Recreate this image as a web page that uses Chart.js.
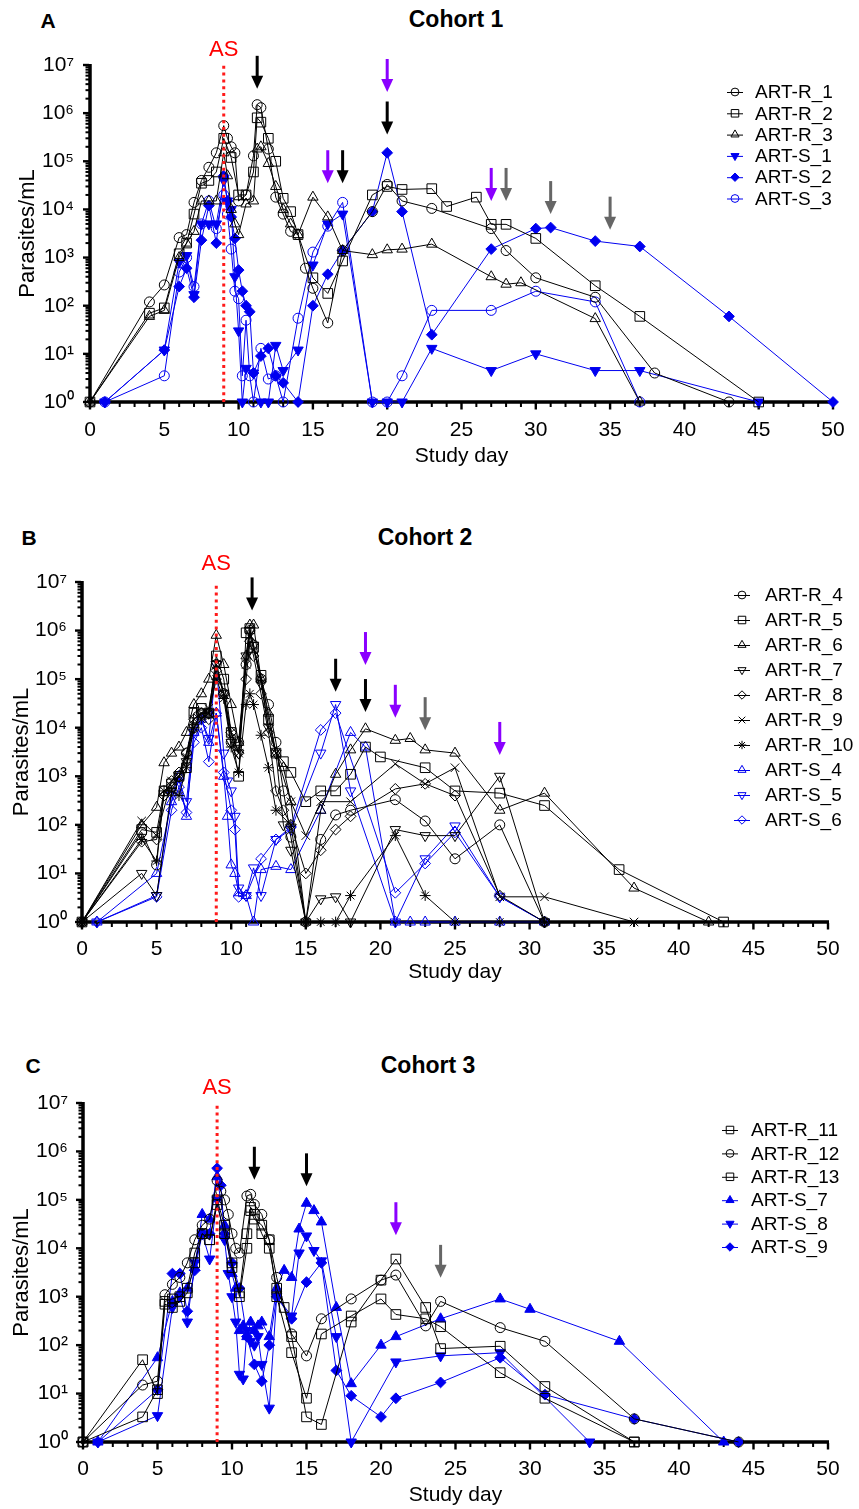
<!DOCTYPE html>
<html><head><meta charset="utf-8">
<script src="https://cdn.jsdelivr.net/npm/chart.js@4.4.1/dist/chart.umd.min.js"></script>
<style>
body{margin:0;background:#fff;width:859px;height:1509px;position:relative;overflow:hidden;font-family:"Liberation Sans",Arial,Helvetica,sans-serif;}
canvas{position:absolute;left:0;}
.lbl{position:absolute;font-weight:bold;transform:translate(-50%,-50%);white-space:nowrap;line-height:1;color:#000;}
</style></head><body>
<div class="lbl" style="left:48px;top:20px;font-size:21px">A</div>
<div class="lbl" style="left:456px;top:19px;font-size:23px">Cohort 1</div>
<div class="lbl" style="left:29px;top:537px;font-size:21px">B</div>
<div class="lbl" style="left:425px;top:537px;font-size:23px">Cohort 2</div>
<div class="lbl" style="left:33px;top:1065px;font-size:21px">C</div>
<div class="lbl" style="left:428px;top:1065px;font-size:23px">Cohort 3</div>
<canvas id="cA" width="859" height="490" style="top:0px"></canvas>
<canvas id="cB" width="859" height="500" style="top:500px"></canvas>
<canvas id="cC" width="859" height="499" style="top:1010px"></canvas>
<script>
// ---------------- DATA ----------------
// Cohort 1
const R1_day = [0,4,5,6,6.5,7,7.5,8,8.5,9,9.25,9.5,9.75,10,10.5,11,11.25,11.5,12,12.5,13,13.5,14,14.5,15,16,17,19,20,21,23,27,28,30,34,38,43];
const R1_val = [1,120,270,2600,3000,14000,40000,75000,150000,550000,300000,200000,150000,15000,20000,130000,1500000,1300000,180000,18000,8000,3500,3000,600,230,44,1400,9000,33000,15000,10500,4000,1400,380,150,4,1];
const R2_day = [0,4,5,6,6.5,7,7.5,8,8.5,9,9.5,10,10.5,11,11.25,11.5,12,12.5,13,13.5,14,15,16,17,19,20,21,23,24,26,27,28,30,34,37,45];
const R2_val = [1,70,90,1200,2000,8000,35000,40000,60000,300000,120000,20000,20000,60000,800000,650000,300000,100000,17000,9000,3000,380,180,850,20000,30000,26000,27000,11500,18000,4900,4900,2500,260,60,1];
const R3_day = [0,4,5,6,6.5,7,7.5,8,8.5,9,9.25,9.5,9.75,10,10.5,11,11.25,11.5,12,12.5,13,13.5,14,15,16,17,19,20,21,23,27,28,29,34,37];
const R3_val = [1,60,80,1000,2000,3500,15000,15000,15000,150000,50000,10000,5000,3000,13000,15000,180000,200000,90000,30000,10000,5000,3000,18000,7000,1400,1150,1450,1500,1900,400,280,300,54,1];
const S1_day = [1,5,6,6.5,7,7.5,8,8.5,9,9.25,9.5,9.75,10,10.25,10.5,11,11.5,12,12.5,13,14,15,16,17,19,20,21,23,27,30,34,37,45];
const S1_val = [1,12,800,1100,170,5000,5000,5000,40000,15000,10000,400,30,1,5,4,1,1,15,4.5,12,700,5000,8000,1,1,1,13,4.5,10,4.5,4.5,1];
const S2_day = [1,5,6,6.5,7,7.5,8,8.5,9,9.25,9.5,9.75,10,10.25,10.5,10.75,11,11.5,12,12.5,13,14,15,16,17,19,20,21,23,27,30,31,34,37,43,50];
const S2_val = [1,12,250,600,150,2300,12000,2000,50000,15000,7000,2500,550,200,100,75,4,9,13,3.5,2.5,1,100,450,1400,9000,150000,9000,25,1500,4000,4200,2200,1700,60,1];
const S3_day = [1,5,6,6.5,7,7.5,8,8.5,9,9.25,9.5,9.75,10,10.25,10.5,10.75,11,11.5,12,12.5,13,14,15,16,17,19,20,21,23,27,30,34,37];
const S3_val = [1,3.5,500,1000,250,5000,15000,4000,20000,8000,1500,200,140,3.5,50,3.5,1,13,3,3.5,1,55,1300,4500,14000,1,1,3.5,80,80,200,120,1];
// Cohort 2
const R4_day = [0,4,5,5.5,6,6.5,7,7.5,8,8.5,9,9.5,10,10.5,11,11.25,11.5,12,12.5,13,13.5,14,15,16,17,18,21,23,25,28,31];
const R4_val = [1,70,15,500,600,1000,3000,10000,20000,20000,200000,50000,5000,5000,200000,1000000,500000,100000,30000,5000,500,56,1,50,160,200,330,120,20,100,1];
const R5_day = [0,4,5,5.5,6,6.5,7,7.5,8,8.5,9,9.5,10,10.5,11,11.25,11.5,12,12.5,13,13.5,14,15,16,17,18,19,20,23,25,28,31,36,43];
const R5_val = [1,80,70,500,700,1000,1500,20000,25000,20000,300000,100000,8000,1000,900000,1100000,450000,120000,15000,3000,2000,1200,300,500,500,1100,4000,2500,1500,500,450,250,12,1];
const R6_day = [0,4,5,5.5,6,6.5,7,7.5,8,8.5,9,9.5,10,10.5,11,11.25,11.5,12,12.5,13,13.5,14,15,16,17,18,19,21,22,23,25,28,31,37,42];
const R6_val = [1,100,230,1900,3000,4000,8000,30000,50000,100000,800000,200000,30000,5000,300000,1300000,1300000,100000,20000,3000,1500,300,1,200,1100,3500,9500,5500,6000,3500,3000,200,450,5,1];
const R7_day = [0,4,5,6,6.5,7,7.5,8,8.5,9,9.5,10,10.5,11,11.25,11.5,12,12.5,13,13.5,14,15,16,17,18,21,23,25,28,31];
const R7_val = [1,10,3.5,500,1000,2000,10000,20000,20000,200000,50000,5000,3000,300000,1000000,500000,80000,10000,3000,100,30,1,3,3.3,1,80,60,60,1000,1];
const R8_day = [0,4,5,5.5,6,6.5,7,7.5,8,8.5,9,9.5,10,10.5,11,11.25,11.5,12,12.5,13,13.5,14,15,16,17,18,21,23,25,28,31];
const R8_val = [1,45,50,400,800,1200,3000,15000,20000,15000,150000,50000,8000,3000,100000,600000,300000,50000,8000,500,200,100,10,30,80,150,550,700,400,3.5,1];
const R9_day = [0,4,5,6,6.5,7,7.5,8,8.5,9,9.5,10,10.5,11,11.25,11.5,12,12.5,13,14,15,16,18,21,23,25,28,31,37];
const R9_val = [1,120,60,800,1000,2500,15000,20000,25000,200000,50000,8000,3000,200000,800000,400000,100000,10000,3000,300,60,300,300,1800,700,1500,3.3,3.3,1];
const R10_day = [0,4,5,5.5,6,6.5,7,7.5,8,8.5,9,9.5,10,10.5,11,11.25,11.5,12,12.5,13,14,15,16,17,18,21,23,25,28,31];
const R10_val = [1,50,18,500,500,400,1500,10000,15000,20000,100000,40000,4000,1200,30000,50000,30000,7000,1500,200,100,1,1,1,3.5,60,3.5,1,1,1];
const S4_day = [1,5,6,6.5,7,7.5,8,8.5,9,9.5,9.75,10,10.25,10.5,11,11.5,12,13,14,16,18,19,21,22,23,25,28,31];
const S4_val = [1,10,300,1000,150,8000,15000,5000,20000,1000,150,15,10,4,3.5,1,12,14,12,200,8000,4000,1,1,1,1,1,1];
const S5_day = [1,5,6,6.5,7,7.5,8,8.5,9,9.5,9.75,10,10.25,10.5,11,11.5,12,13,14,16,17,18,21,23,25,28,31];
const S5_val = [1,3.5,400,800,300,8000,15000,6000,200000,3000,800,500,150,5,3.5,13,3.5,50,80,3000,30000,500,1,20,95,3.3,1];
const S6_day = [1,5,6,6.5,7,7.5,8,8.5,9,9.5,10,10.25,10.5,11,12,13,14,16,17,21,23,25,28,31];
const S6_val = [1,3.3,200,600,180,5000,10000,2000,20000,1200,200,80,3.3,3.5,20,50,90,9000,20000,4,16,70,3.3,1];
// Cohort 3
const R11_day = [0,4,5,5.5,6,6.5,7,7.5,8,8.5,9,9.5,10,10.5,11,11.25,11.5,12,12.5,13,14,15,16,18,20,21,23,24,28,31,37];
const R11_val = [1,50,10,700,600,800,1200,5000,20000,15000,100000,30000,5000,1000,10000,60000,40000,30000,15000,1000,70,8,170,400,900,430,350,240,27,8,1];
const R12_day = [0,4,5,5.5,6,6.5,7,7.5,8,8.5,9,9.25,9.5,9.75,10,10.25,10.5,11,11.25,11.5,12,12.5,13,14,15,16,18,20,21,23,24,28,31,37,44];
const R12_val = [1,15,18,1100,1800,2500,5000,15000,30000,40000,250000,150000,100000,50000,20000,10000,8000,120000,130000,80000,50000,15000,2500,170,60,350,900,2200,2800,250,800,230,120,3,1];
const R13_day = [0,4,5,5.5,6,6.5,7,7.5,8,8.5,9,9.5,10,10.5,11,11.25,11.5,12,12.5,13,13.5,14,15,16,18,20,21,23,24,28,31,37];
const R13_val = [1,3.3,12,800,900,1000,1500,8000,20000,15000,80000,20000,4000,1200,20000,70000,50000,20000,10000,1500,600,150,3.3,2.3,300,2200,6000,600,85,95,14,1];
const S7_day = [1,5,6,6.5,7,7.5,8,8.5,9,9.5,10,10.25,10.5,10.75,11,11.25,11.5,11.75,12,12.5,13,13.5,14,14.5,15,15.5,16,17,18,20,21,24,28,30,36,43];
const S7_val = [1,55,800,1200,1500,4000,50000,40000,300000,30000,3000,1500,200,250,150,300,200,250,300,150,1500,3500,2500,25000,85000,60000,35000,600,16,100,150,350,900,550,120,1];
const S8_day = [1,5,6,6.5,7,7.5,8,8.5,9,9.5,9.75,10,10.25,10.5,10.75,11,11.25,11.5,11.75,12,12.5,13,14,14.5,15,15.5,16,17,18,21,24,28,34];
const S8_val = [1,3.5,600,1000,300,5000,20000,6000,100000,15000,3000,1000,300,25,20,200,120,100,150,40,5,1000,400,8000,18000,9000,5500,150,1,45,60,70,1];
const S9_day = [1,5,6,6.5,7,7.5,8,8.5,9,9.25,9.5,10,10.5,11,11.5,12,12.5,13,14,15,16,17,18,20,21,24,28,31,37,44];
const S9_val = [1,12,3000,3000,500,3500,20000,20000,450000,200000,20000,5000,1500,150,40,18,100,1000,350,2000,5000,30,9,3.3,8,17,55,9.5,3,1];

// Arrow annotations (study day, parasite value at arrow tip, kind)
const arrA_day  = [11.25, 20, 20, 16, 17, 27, 28, 31, 35];
const arrA_tip  = [3200000, 2750000, 360000, 35000, 35000, 15000, 15000, 8000, 3800];
const arrA_kind = ['black','purple','black','purple','black','purple','gray','gray','gray'];
const arrB_day  = [11.4, 19, 17, 19, 21, 23, 28];
const arrB_tip  = [2600000, 195000, 55000, 21000, 16000, 8900, 2750];
const arrB_kind = ['black','purple','black','black','purple','gray','purple'];
const arrC_day  = [11.5, 15, 21, 24];
const arrC_tip  = [260000, 190000, 18600, 2450];
const arrC_kind = ['black','black','purple','gray'];

const AS_day = 9;
const yTickExps = [0,1,2,3,4,5,6,7];
const xTickStep = 5;

// ---------------- STYLE ----------------
const FONT = '"Liberation Sans", Arial, Helvetica, sans-serif';
const BLACK = '#000000';
const BLUE = 'rgb(0,0,240)';
const ARROW_COL = {black:'#000000', purple:'#8a00ff', gray:'#666666'};
const MK = {
  circle:{ps:'circle', r:5, rot:0},
  square:{ps:'rect', r:6.8, rot:0},
  tri:{ps:'triangle', r:6, rot:0},
  dtri:{ps:'triangle', r:6, rot:180},
  diamond:{ps:'rectRot', r:5.4, rot:0},
  cross:{ps:'crossRot', r:6, rot:0},
  star:{ps:'star', r:5.4, rot:0}
};
const SUP = ['\u2070','\u00B9','\u00B2','\u00B3','\u2074','\u2075','\u2076','\u2077'];

function ds(label, days, vals, mk, color, filled){
  const m = MK[mk];
  return {
    label, data: days.map((d,i)=>({x:d, y:vals[i]})),
    borderColor: color, backgroundColor: filled ? color : 'rgba(0,0,0,0)',
    borderWidth: 1, pointStyle: m.ps, pointRadius: m.r, pointRotation: m.rot,
    pointBorderColor: color, pointBackgroundColor: filled ? color : 'rgba(0,0,0,0)',
    pointBorderWidth: 1, tension: 0, fill: false, clip: false,
    mkKey: mk, mkFilled: filled
  };
}

function drawMarker(ctx, style, x, y, r, rot, stroke, fill){
  ctx.save(); ctx.translate(x,y); ctx.rotate(rot*Math.PI/180);
  ctx.beginPath();
  if(style==='circle'){ ctx.arc(0,0,r,0,2*Math.PI); }
  else if(style==='rect'){ const s=r*Math.SQRT1_2; ctx.rect(-s,-s,2*s,2*s); }
  else if(style==='triangle'){ for(let k=0;k<3;k++){const a=k*2*Math.PI/3; const px=Math.sin(a)*r, py=-Math.cos(a)*r; if(k) ctx.lineTo(px,py); else ctx.moveTo(px,py);} ctx.closePath(); }
  else if(style==='rectRot'){ ctx.moveTo(0,-r); ctx.lineTo(r,0); ctx.lineTo(0,r); ctx.lineTo(-r,0); ctx.closePath(); }
  else if(style==='crossRot'){ const s=r*Math.SQRT1_2; ctx.moveTo(-s,-s); ctx.lineTo(s,s); ctx.moveTo(-s,s); ctx.lineTo(s,-s); }
  else if(style==='star'){ const s=r*Math.SQRT1_2; ctx.moveTo(-s,-s); ctx.lineTo(s,s); ctx.moveTo(-s,s); ctx.lineTo(s,-s); ctx.moveTo(0,-r); ctx.lineTo(0,r); ctx.moveTo(-r,0); ctx.lineTo(r,0); }
  if(fill && style!=='crossRot' && style!=='star'){ ctx.fillStyle=fill; ctx.fill(); }
  ctx.strokeStyle=stroke; ctx.lineWidth=1; ctx.stroke();
  ctx.restore();
}

function decor(cfg){
  return {
    id:'decor'+cfg.id,
    beforeDatasetsDraw(chart){
      const {ctx, chartArea:a, scales:{x,y}} = chart;
      ctx.save();
      ctx.fillStyle = '#000';
      ctx.fillRect(a.left-1.75, a.top-1, 3.5, a.bottom-a.top+2.75);
      ctx.fillRect(a.left-1.75, a.bottom-1.75, a.right-a.left+2.75, 3.5);
      for(let e=0;e<=7;e++){
        for(let m=1;m<=9;m++){
          if(e===7 && m>1) break;
          const py = y.getPixelForValue(m*Math.pow(10,e));
          if(m===1) ctx.fillRect(a.left-7, py-1.2, 6, 2.4);
          else ctx.fillRect(a.left-4.5, py-1, 3.5, 2);
        }
      }
      for(let d=0; d<=50; d++){
        const px = x.getPixelForValue(d);
        if(d%5===0) ctx.fillRect(px-1.2, a.bottom+1, 2.4, 6.5);
        else ctx.fillRect(px-1, a.bottom+1, 2, 4);
      }
      ctx.restore();
    },
    afterDatasetsDraw(chart){
      const {ctx, chartArea:a, scales:{x,y}} = chart;
      ctx.save();
      ctx.fillStyle = '#ff0000';
      ctx.font = '22px '+FONT;
      ctx.textAlign='center'; ctx.textBaseline='middle';
      ctx.fillText('AS', x.getPixelForValue(AS_day), a.top - cfg.asDy);
      cfg.arrows.days.forEach((d,i)=>{
        const px = x.getPixelForValue(d);
        const tip = y.getPixelForValue(cfg.arrows.tips[i]);
        ctx.fillStyle = ARROW_COL[cfg.arrows.kinds[i]];
        const L=33, hw=6, hh=13, sw=3;
        ctx.fillRect(px-sw/2, tip-L, sw, L-hh+1);
        ctx.beginPath(); ctx.moveTo(px-hw, tip-hh); ctx.lineTo(px+hw, tip-hh); ctx.lineTo(px, tip); ctx.closePath(); ctx.fill();
      });
      const lg = cfg.legend;
      let row = 0;
      chart.data.datasets.forEach(dset=>{
        if(!dset.mkKey) return;
        const yy = lg.y0 + row*lg.dy; row++;
        ctx.strokeStyle = dset.borderColor; ctx.lineWidth = 1;
        ctx.beginPath(); ctx.moveTo(lg.mx-8, yy+0.5); ctx.lineTo(lg.mx+8, yy+0.5); ctx.stroke();
        const m = MK[dset.mkKey];
        drawMarker(ctx, m.ps, lg.mx, yy, m.r*0.78, m.rot, dset.borderColor, dset.mkFilled ? dset.borderColor : null);
        ctx.fillStyle = '#000'; ctx.font = '19px '+FONT; ctx.textAlign='left'; ctx.textBaseline='middle';
        ctx.fillText(dset.label, lg.tx, yy+1);
      });
      ctx.restore();
    }
  };
}

function makeChart(id, datasets, cfg){
  const canvas = document.getElementById(id);
  const H = canvas.height;
  datasets.push({label:'AS', data:[{x:AS_day,y:1},{x:AS_day,y:1e7}], borderColor:'#ff1a1a', borderWidth:3, borderDash:[3,3.8], pointRadius:0, fill:false, order:-1});
  new Chart(canvas, {
    type:'line',
    data:{datasets},
    options:{
      responsive:false, animation:false, devicePixelRatio:1, events:[],
      layout:{padding:{top:cfg.top, right:859-cfg.right, left:0, bottom:0}},
      plugins:{legend:{display:false}, tooltip:{enabled:false}, title:{display:false}},
      scales:{
        x:{type:'linear', min:0, max:50,
           ticks:{stepSize:xTickStep, font:{family:FONT,size:21}, color:'#000', padding:cfg.xTickPad, maxRotation:0, autoSkip:false},
           grid:{display:false}, border:{display:false},
           title:{display:true, text:'Study day', color:'#000', font:{family:FONT,size:21}, padding:{top:0,bottom:cfg.xTitlePad}},
           afterFit(s){ s.height = H - cfg.bottom; }},
        y:{type:'logarithmic', min:1, max:1e7,
           afterBuildTicks(s){ s.ticks = yTickExps.map(e=>({value:Math.pow(10,e), major:true})); },
           ticks:{callback:(v)=> '10'+SUP[Math.round(Math.log10(v))], font:{family:FONT,size:21}, color:'#000', padding:cfg.yTickPad, autoSkip:false},
           grid:{display:false}, border:{display:false},
           title:{display:true, text:'Parasites/mL', color:'#000', font:{family:FONT,size:22}, padding:{top:cfg.yTitlePad,bottom:0}},
           afterFit(s){ s.width = cfg.left; }}
      }
    },
    plugins:[decor(cfg)]
  });
}

makeChart('cA', [
  ds('ART-R_1', R1_day, R1_val, 'circle', BLACK, false),
  ds('ART-R_2', R2_day, R2_val, 'square', BLACK, false),
  ds('ART-R_3', R3_day, R3_val, 'tri', BLACK, false),
  ds('ART-S_1', S1_day, S1_val, 'dtri', BLUE, true),
  ds('ART-S_2', S2_day, S2_val, 'diamond', BLUE, true),
  ds('ART-S_3', S3_day, S3_val, 'circle', BLUE, false)
], {id:'A', top:65, bottom:402, left:90, right:833, xTickPad:8, xTitlePad:21, yTickPad:8, yTitlePad:15, asDy:15,
    legend:{mx:735, tx:755, y0:92, dy:21.3}, arrows:{days:arrA_day, tips:arrA_tip, kinds:arrA_kind}});

makeChart('cB', [
  ds('ART-R_4', R4_day, R4_val, 'circle', BLACK, false),
  ds('ART-R_5', R5_day, R5_val, 'square', BLACK, false),
  ds('ART-R_6', R6_day, R6_val, 'tri', BLACK, false),
  ds('ART-R_7', R7_day, R7_val, 'dtri', BLACK, false),
  ds('ART-R_8', R8_day, R8_val, 'diamond', BLACK, false),
  ds('ART-R_9', R9_day, R9_val, 'cross', BLACK, false),
  ds('ART-R_10', R10_day, R10_val, 'star', BLACK, false),
  ds('ART-S_4', S4_day, S4_val, 'tri', BLUE, false),
  ds('ART-S_5', S5_day, S5_val, 'dtri', BLUE, false),
  ds('ART-S_6', S6_day, S6_val, 'diamond', BLUE, false)
], {id:'B', top:82, bottom:422, left:82, right:828, xTickPad:7, xTitlePad:15, yTickPad:7, yTitlePad:9, asDy:18,
    legend:{mx:742, tx:765, y0:95, dy:25}, arrows:{days:arrB_day, tips:arrB_tip, kinds:arrB_kind}});

makeChart('cC', [
  ds('ART-R_11', R11_day, R11_val, 'square', BLACK, false),
  ds('ART-R_12', R12_day, R12_val, 'circle', BLACK, false),
  ds('ART-R_13', R13_day, R13_val, 'square', BLACK, false),
  ds('ART-S_7', S7_day, S7_val, 'tri', BLUE, true),
  ds('ART-S_8', S8_day, S8_val, 'dtri', BLUE, true),
  ds('ART-S_9', S9_day, S9_val, 'diamond', BLUE, true)
], {id:'C', top:93, bottom:432, left:83, right:828, xTickPad:7, xTitlePad:1.5, yTickPad:7, yTitlePad:9, asDy:15,
    legend:{mx:730, tx:751, y0:120, dy:23.4}, arrows:{days:arrC_day, tips:arrC_tip, kinds:arrC_kind}});
</script>
</body></html>
